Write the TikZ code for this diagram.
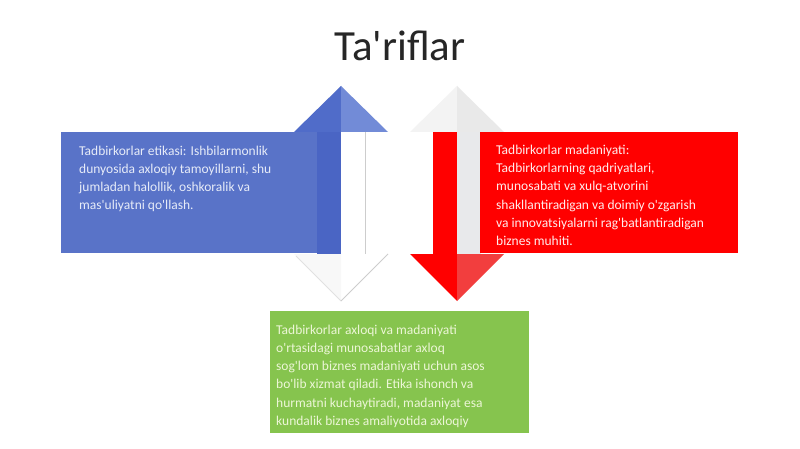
\documentclass[tikz,border=0pt]{standalone}
\usepackage{fontspec}
\setmainfont{Carlito}[Ligatures=TeXOff]
\definecolor{bluebox}{RGB}{89,115,200}
\definecolor{blueshaft}{RGB}{74,101,196}
\definecolor{blueheadL}{RGB}{80,108,201}
\definecolor{blueheadR}{RGB}{114,139,215}
\definecolor{bluetxt}{RGB}{230,235,248}
\definecolor{redbox}{RGB}{255,0,0}
\definecolor{redheadR}{RGB}{242,62,62}
\definecolor{redtxt}{RGB}{255,236,236}
\definecolor{greybodyR}{RGB}{232,233,235}
\definecolor{greyheadL}{RGB}{243,243,243}
\definecolor{greyheadR}{RGB}{233,233,233}
\definecolor{paleL}{RGB}{248,248,248}
\definecolor{edgegrey}{RGB}{205,205,205}
\definecolor{greenbox}{RGB}{134,196,78}
\definecolor{greentxt}{RGB}{236,246,214}
\definecolor{titlecol}{RGB}{38,38,38}
\begin{document}
\begin{tikzpicture}[x=1pt,y=-1pt,
  box/.style={draw=none,inner sep=0pt,anchor=north west},
  txt/.style={inner sep=0pt,anchor=north west,align=left,
    font=\fontsize{13.5}{18}\selectfont},
  ]
\useasboundingbox (0,0) rectangle (800,449);
\fill[white] (0,0) rectangle (800,449);
% title
\node[font=\fontsize{43}{50}\selectfont,text=titlecol] (title) at (400,46) {Ta'riflar};
% left up-down arrow
\fill[blueheadL] (294,132) -- (341,86) -- (341,132) -- cycle;
\fill[blueheadR] (341,86) -- (388,132) -- (341,132) -- cycle;
\fill[blueshaft] (317,132) rectangle (341,254);
\fill[white] (341,132) rectangle (365,254);
\draw[edgegrey,line width=0.8pt] (365.5,132) -- (365.5,254);
\fill[paleL] (294,254) -- (341,301) -- (341,254) -- cycle;
\draw[edgegrey!60,line width=0.8pt] (296,256) -- (341,301);
\draw[edgegrey,line width=0.9pt] (341,301) -- (388,254);
% right up-down arrow
\fill[greyheadL] (410,132) -- (457,86) -- (457,132) -- cycle;
\fill[greyheadR] (457,86) -- (504,132) -- (457,132) -- cycle;
\fill[redbox] (433,132) rectangle (457,254);
\fill[greybodyR] (457,132) rectangle (481,254);
\fill[redbox] (410,254) -- (457,301) -- (457,254) -- cycle;
\fill[redheadR] (457,301) -- (504,254) -- (457,254) -- cycle;
% boxes
\node[box,fill=bluebox,minimum width=256pt,minimum height=121pt] (blue) at (61,132) {};
\node[txt,text=bluetxt] (bluetext) at ([shift={(18,13.5)}]blue.north west)
  {Tadbirkorlar etikasi: Ishbilarmonlik\\dunyosida axloqiy tamoyillarni, shu\\jumladan halollik, oshkoralik va\\mas'uliyatni qo'llash.};
\node[box,fill=redbox,minimum width=258pt,minimum height=121pt] (red) at (480,132) {};
\node[txt,text=redtxt,font=\fontsize{13.5}{18.2}\selectfont] (redtext) at ([shift={(16,13)}]red.north west)
  {Tadbirkorlar madaniyati:\\Tadbirkorlarning qadriyatlari,\\munosabati va xulq-atvorini\\shakllantiradigan va doimiy o'zgarish\\va innovatsiyalarni rag'batlantiradigan\\biznes muhiti.};
\node[box,fill=greenbox,minimum width=259pt,minimum height=122pt] (green) at (270,311) {};
\node[txt,text=greentxt,font=\fontsize{13.5}{18.3}\selectfont] (greentext) at ([shift={(6,13.5)}]green.north west)
  {Tadbirkorlar axloqi va madaniyati\\o'rtasidagi munosabatlar axloq\\sog'lom biznes madaniyati uchun asos\\bo'lib xizmat qiladi. Etika ishonch va\\hurmatni kuchaytiradi, madaniyat esa\\kundalik biznes amaliyotida axloqiy};
\end{tikzpicture}
\end{document}
